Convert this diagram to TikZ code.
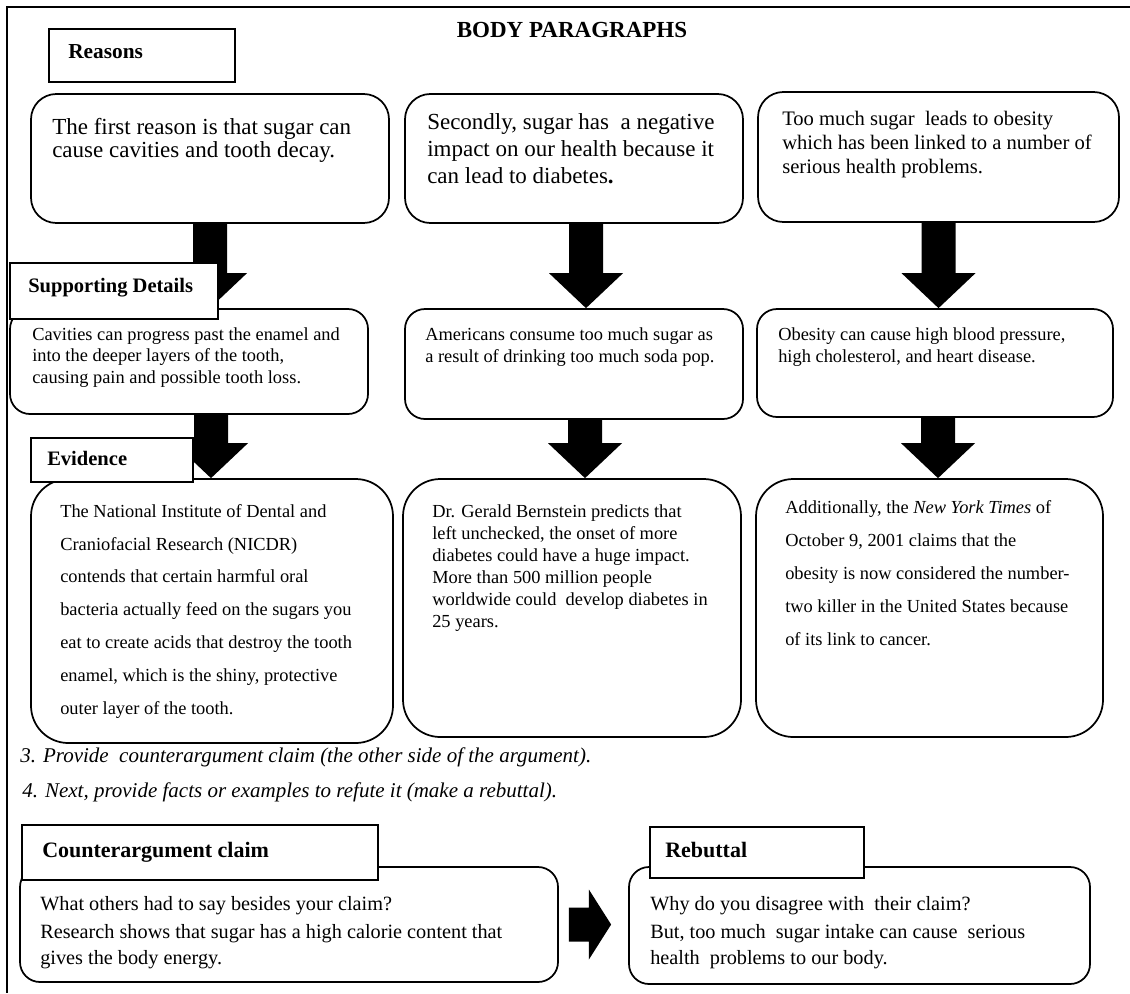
\documentclass[tikz,border=0pt]{standalone}
\usepackage{fontspec}
\setmainfont{Liberation Serif}
\usetikzlibrary{positioning,calc,fit}

% block arrow pointing down, from the bottom of #2 to the top of #3 (#1 shifts it sideways)
\newcommand{\downblock}[3][0]{%
  \fill ($(#2.south)+(#1-17,0)$) -- ($(#2.south |- #3.north)+(#1-17,-35)$)
    -- ($(#2.south |- #3.north)+(#1-37,-35)$) -- ($(#2.south |- #3.north)+(#1,0)$)
    -- ($(#2.south |- #3.north)+(#1+37,-35)$) -- ($(#2.south |- #3.north)+(#1+17,-35)$)
    -- ($(#2.south)+(#1+17,0)$) -- cycle;}

\begin{document}
\begin{tikzpicture}[x=0.75pt, y=-0.75pt, every node/.style={inner sep=0pt},
  rbox/.style={draw, line width=1.3pt, rounded corners=19pt},
  sbox/.style={draw, line width=1.3pt, rounded corners=15pt},
  ebox/.style={draw, line width=1.3pt, rounded corners=28pt},
  tag/.style={draw, fill=white, line width=1.1pt},
  tagtext/.style={anchor=base west, font=\fontsize{15.4}{18}\selectfont\bfseries},
  txt/.style={anchor=base west, align=left}, % placed at the baseline of the last line
]
\useasboundingbox (0,0) rectangle (1130,993);

% frame
\draw[line width=1.5pt] (1130,7) -- (7,7) -- (7,993);
\node[anchor=base, font=\fontsize{17.25}{20}\selectfont\bfseries] (title) at (572,37) {BODY PARAGRAPHS};

% --- Reasons ---
\node[rbox, fit={(31,94) (389,223)}] (r1) {};
\node[rbox, fit={(405,94) (743,223)}] (r2) {};
\node[rbox, fit={(758,92) (1119,222)}] (r3) {};

% --- Supporting details ---
\node[sbox, fit={(10,309) (368,414)}] (s1) {};
\node[sbox, fit={(405,309) (743,419)}] (s2) {};
\node[sbox, fit={(757,309) (1113,417)}] (s3) {};

% --- Evidence ---
\node[ebox, fit={(31,479) (393,743)}] (e1) {};
\node[ebox, fit={(403,479) (741,737)}] (e2) {};
\node[ebox, fit={(756,479) (1103,737)}] (e3) {};

% --- Counterargument / rebuttal ---
\node[sbox, fit={(20,867) (558,982)}] (c1) {};
\node[sbox, fit={(629,867) (1090,984)}] (b1) {};

% arrows
\downblock{r1}{s1}
\downblock[12]{r2}{s2}
\downblock{r3}{s3}
\downblock[22]{s1}{e1}
\downblock[11]{s2}{e2}
\downblock[3]{s3}{e3}
\fill ($(c1.east)+(10,-17)$) -- ($(c1.east)+(30,-17)$) -- ($(c1.east)+(30,-35)$)
  -- ($(b1.west |- c1.east)+(-17,0)$) -- ($(c1.east)+(30,35)$)
  -- ($(c1.east)+(30,17)$) -- ($(c1.east)+(10,17)$) -- cycle;

% heading tags
\node[tag, fit={(49,29) (235,82)}] (tr) {};
\node[tagtext, font=\fontsize{16}{18}\selectfont\bfseries] (trt) at (68,58) {Reasons};
\node[tag, fit={(10,263) (218,319)}] (ts) {};
\node[tagtext] (tst) at (28,292) {Supporting Details};
\node[tag, fit={(31,438) (193,482)}] (te) {};
\node[tagtext] (tet) at (47,465) {Evidence};
\node[tag, fit={(22,825) (378,880)}] (tc) {};
\node[tagtext, font=\fontsize{16.5}{18}\selectfont\bfseries] (tct) at (42,857) {Counterargument claim};
\node[tag, fit={(650,827) (864,878)}] (tb) {};
\node[tagtext, font=\fontsize{16.5}{18}\selectfont\bfseries] (tbt) at (665,857) {Rebuttal};

% texts
\node[txt, font=\fontsize{17.25}{17.6}\selectfont] (r1t) at (52,157.5)
  {The first reason is that sugar can\\cause cavities and tooth decay.};
\node[txt, font=\fontsize{17.25}{19.9}\selectfont] (r2t) at (427,183)
  {Secondly, sugar has\ \ a negative\\impact on our health because it\\can lead to diabetes\textbf{.}};
\node[txt, font=\fontsize{15.45}{18}\selectfont] (r3t) at (782,173)
  {Too much sugar\ \ leads to obesity\\which has been linked to a number of\\serious health problems.};

\node[txt, font=\fontsize{13.8}{16.1}\selectfont] (s1t) at (32,383)
  {Cavities can progress past the enamel and\\into the deeper layers of the tooth,\\causing pain and possible tooth loss.};
\node[txt, font=\fontsize{13.8}{16.3}\selectfont] (s2t) at (425,362)
  {Americans consume too much sugar as\\a result of drinking too much soda pop.};
\node[txt, font=\fontsize{13.8}{16.3}\selectfont] (s3t) at (778,362)
  {Obesity can cause high blood pressure,\\high cholesterol, and heart disease.};

\node[txt, font=\fontsize{13.8}{24.6}\selectfont] (e1t) at (60,714)
  {The National Institute of Dental and\\Craniofacial Research (NICDR)\\contends that certain harmful oral\\bacteria actually feed on the sugars you\\eat to create acids that destroy the tooth\\enamel, which is the shiny, protective\\outer layer of the tooth.};
\node[txt, font=\fontsize{13.8}{16.5}\selectfont] (e2t) at (432,627)
  {Dr. Gerald Bernstein predicts that\\left unchecked, the onset of more\\diabetes could have a huge impact.\\More than 500 million people\\worldwide could\ \ develop diabetes in\\25 years.};
\node[txt, font=\fontsize{13.8}{24.75}\selectfont] (e3t) at (785,645)
  {Additionally, the \textit{New York Times} of\\October 9, 2001 claims that the\\obesity is now considered the number-\\two killer in the United States because\\of its link to cancer.};

% steps 3 and 4
\node[txt, font=\fontsize{15.75}{18}\selectfont\itshape] (n3) at (20,762)
  {3. Provide\ \ counterargument claim (the other side of the argument).};
\node[txt, font=\fontsize{15.75}{18}\selectfont\itshape] (n4) at (22,797)
  {4. Next, provide facts or examples to refute it (make a rebuttal).};

\node[txt, font=\fontsize{15.2}{19.2}\selectfont] (c1t) at (40,964)
  {What others had to say besides your claim?\\[2pt]Research shows that sugar has a high calorie content that\\gives the body energy.};
\node[txt, font=\fontsize{15.2}{19.2}\selectfont] (b1t) at (650,964)
  {Why do you disagree with\ \ their claim?\\[2pt]But, too much\ \ sugar intake can cause\ \ serious\\health\ \ problems to our body.};

\end{tikzpicture}
\end{document}
